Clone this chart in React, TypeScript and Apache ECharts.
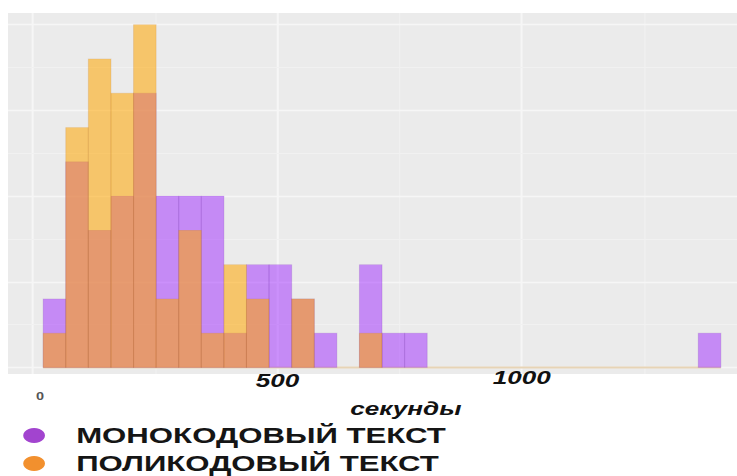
import React, { useEffect, useRef } from "react";
import * as echarts from "echarts";

// ---- data ----
const BIN_START = 21; // seconds, left edge of first bin
const BIN_WIDTH = 46.2; // seconds per bin
const monoCounts = [2, 6, 4, 5, 8, 5, 5, 5, 1, 3, 3, 2, 1, 0, 3, 1, 1, 0, 0, 0, 0, 0, 0, 0, 0, 0, 0, 0, 0, 1];
const polyCounts = [1, 7, 9, 8, 10, 2, 4, 1, 3, 2, 0, 2, 0, 0, 1, 0, 0, 0, 0, 0, 0, 0, 0, 0, 0, 0, 0, 0, 0, 0];
const seriesNames = ["МОНОКОДОВЫЙ ТЕКСТ", "ПОЛИКОДОВЫЙ ТЕКСТ"];
const xTickLabels = [500, 1000];
const xGridMajor = [0, 500, 1000];
const xGridMinor = [250, 750, 1250];
const yGridMajor = [0, 2.5, 5, 7.5, 10];
const yGridMinor = [1.25, 3.75, 6.25, 8.75];
const xAxisName = "секунды";
const zeroLabel = "0";

const SX = 737 / 508;
const FONT = "'Liberation Sans', Arial, sans-serif";

function bins(counts: number[]) {
  return counts
    .map((c, i) => [BIN_START + i * BIN_WIDTH, BIN_START + (i + 1) * BIN_WIDTH, c])
    .filter((d) => d[2] > 0);
}

function histSeries(name: string, counts: number[], fill: string, stroke: string) {
  return {
    type: "custom",
    name,
    z: 10,
    data: bins(counts),
    encode: { x: [0, 1], y: 2 },
    renderItem: (params: any, api: any) => {
      const p0 = api.coord([api.value(0), api.value(2)]);
      const p1 = api.coord([api.value(1), 0]);
      return {
        type: "rect",
        shape: { x: p0[0], y: p0[1], width: p1[0] - p0[0], height: p1[1] - p0[1] },
        style: { fill, stroke, lineWidth: 0.7 },
      };
    },
  };
}

function legendFor(name: string, color: string, top: number) {
  return {
    orient: "vertical",
    left: 16,
    top,
    padding: 0,
    itemWidth: 16,
    itemHeight: 15,
    selectedMode: false,
    textStyle: {
      fontSize: 21.5,
      fontWeight: "bold",
      color: "#151515",
      fontFamily: FONT,
      lineHeight: 20,
      padding: [0, 0, 0, 16],
    },
    data: [{ name, icon: "circle", itemStyle: { color } }],
  };
}

export default function App() {
  const ref = useRef<HTMLDivElement>(null);
  useEffect(() => {
    if (!ref.current) return;
    const chart = echarts.init(ref.current, null, { renderer: "svg", width: 508, height: 476 });
    const gl = (v: number, axis: "xAxis" | "yAxis", major: boolean) => ({
      [axis]: v,
      lineStyle: { type: "solid", width: major ? 1.4 : 0.8, color: major ? "#F6F6F6" : "#F1F1F1" },
    });
    const lastEdge = BIN_START + monoCounts.length * BIN_WIDTH;
    chart.setOption({
      animation: false,
      backgroundColor: "#FFFFFF",
      grid: {
        left: 5.5,
        right: 0,
        top: 13,
        bottom: 102,
        show: true,
        backgroundColor: "#EBEBEB",
        borderWidth: 0,
      },
      xAxis: {
        type: "value",
        min: -51,
        max: 1440,
        axisLine: { show: false, onZero: false },
        axisTick: { show: false },
        splitLine: { show: false },
        axisLabel: {
          customValues: xTickLabels,
          margin: -5,
          formatter: (v: number) => (v === 500 ? "{a|" + v + "}" : "{b|" + v + "}"),
          rich: {
            a: { padding: [5, 0, 0, 0], fontSize: 18, fontWeight: "bold", fontStyle: "italic", color: "#111", fontFamily: FONT, lineHeight: 18 },
            b: { fontSize: 18, fontWeight: "bold", fontStyle: "italic", color: "#111", fontFamily: FONT, lineHeight: 18 },
          },
        },
        name: xAxisName,
        nameLocation: "middle",
        nameGap: 26,
        nameTextStyle: {
          fontSize: 18,
          fontWeight: "bold",
          fontStyle: "italic",
          color: "#111",
          fontFamily: FONT,
          lineHeight: 18,
          padding: [0, 0, 0, 46],
        },
      },
      yAxis: {
        type: "value",
        min: -0.19,
        max: 10.34,
        show: false,
        splitLine: { show: false },
      },
      legend: [
        legendFor(seriesNames[0], "#A244CF", 424.5),
        legendFor(seriesNames[1], "#F2902E", 452.5),
      ],
      graphic: [
        {
          type: "text",
          x: 27.6,
          y: 397,
          style: { text: zeroLabel, fontSize: 10, fontWeight: "bold", fill: "#555", fontFamily: FONT, align: "center", verticalAlign: "middle" },
          silent: true,
        },
      ],
      series: [
        {
          type: "line",
          name: "_base",
          z: 5,
          silent: true,
          symbol: "none",
          data: [
            [BIN_START, 0],
            [lastEdge, 0],
          ],
          lineStyle: { color: "#E7D4B6", width: 2 },
          markLine: {
            silent: true,
            symbol: "none",
            z: 1,
            label: { show: false },
            animation: false,
            data: [
              ...xGridMajor.map((v) => gl(v, "xAxis", true)),
              ...xGridMinor.map((v) => gl(v, "xAxis", false)),
              ...yGridMajor.map((v) => gl(v, "yAxis", true)),
              ...yGridMinor.map((v) => gl(v, "yAxis", false)),
            ],
          },
        },
        histSeries(seriesNames[0], monoCounts, "rgba(160,42,255,0.5)", "rgba(110,40,170,0.18)"),
        histSeries(seriesNames[1], polyCounts, "rgba(255,165,0,0.55)", "rgba(190,110,30,0.18)"),
      ],
    });
    return () => chart.dispose();
  }, []);
  return (
    <div style={{ position: "fixed", left: 0, top: 0, width: 737, height: 476, overflow: "hidden", background: "#fff" }}>
      <div
        ref={ref}
        style={{ width: 508, height: 476, transform: `scaleX(${SX})`, transformOrigin: "0 0" }}
      />
    </div>
  );
}
